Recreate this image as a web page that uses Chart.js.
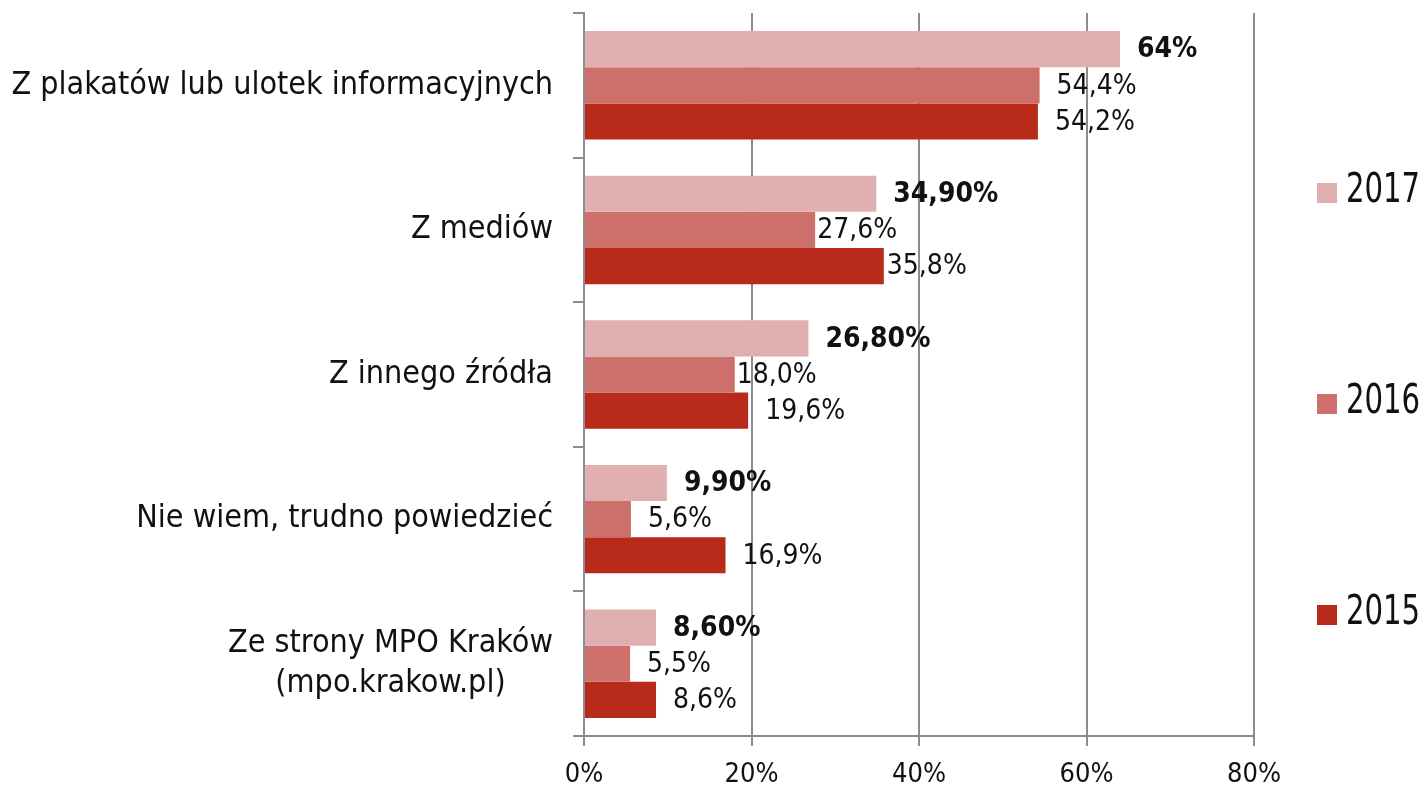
<!DOCTYPE html>
<html>
<head>
<meta charset="utf-8">
<script src="https://cdn.jsdelivr.net/npm/chart.js@4/dist/chart.umd.min.js"></script>
<style>
  html, body { margin: 0; padding: 0; background: #ffffff; }
  canvas { display: block; }
</style>
</head>
<body>
<canvas id="chart" width="1427" height="786"></canvas>
<script>
// Survey answers: where respondents learned about the campaign
const categories = [
  ["Z plakatów lub ulotek informacyjnych"],
  ["Z mediów"],
  ["Z innego źródła"],
  ["Nie wiem, trudno powiedzieć"],
  ["Ze strony MPO Kraków", "(mpo.krakow.pl)"]
];
const years = ["2017", "2016", "2015"];
const values2017 = [64, 34.9, 26.8, 9.9, 8.6];
const values2016 = [54.4, 27.6, 18.0, 5.6, 5.5];
const values2015 = [54.2, 35.8, 19.6, 16.9, 8.6];
const xTickValues = [0, 20, 40, 60, 80];

const seriesColors = ["#E0B0B0", "#CD706B", "#B82B1A"];
const GRID = "#8c8c8c";
const TEXT = "#111111";
const LABEL_FONT = "'DejaVu Sans Condensed', 'DejaVu Sans', sans-serif";

// Value label text per series
const fmt2017 = v => (Number.isInteger(v) ? String(v) : v.toFixed(2).replace(".", ",")) + "%";
const fmtOther = v => v.toFixed(1).replace(".", ",") + "%";

// Gap between bar end and its value label (a few labels sit tight to the bar)
const labelGap = { default: 17, "1:1": 2, "2:1": 3, "1:2": 2 };

const valueLabels = {
  id: "valueLabels",
  afterDatasetsDraw(chart) {
    const ctx = chart.ctx;
    ctx.save();
    ctx.fillStyle = TEXT;
    ctx.textAlign = "left";
    ctx.textBaseline = "middle";
    chart.data.datasets.forEach((ds, di) => {
      const meta = chart.getDatasetMeta(di);
      ctx.font = (di === 0 ? "bold " : "") + "28px " + LABEL_FONT;
      meta.data.forEach((bar, i) => {
        const v = ds.data[i];
        const text = di === 0 ? fmt2017(v) : fmtOther(v);
        const gap = labelGap[di + ":" + i] ?? labelGap.default;
        ctx.fillText(text, bar.x + gap, bar.y + 1);
      });
    });
    ctx.restore();
  }
};

// Category names drawn left of the axis, multi-line names centred line by line
const categoryLabels = {
  id: "categoryLabels",
  afterDraw(chart) {
    const ctx = chart.ctx;
    const y = chart.scales.y;
    const right = chart.chartArea.left - 31;
    ctx.save();
    ctx.fillStyle = TEXT;
    ctx.font = "32px " + LABEL_FONT;
    ctx.textBaseline = "middle";
    ctx.textAlign = "center";
    categories.forEach((lines, i) => {
      const cy = y.getPixelForValue(i);
      const lh = 40;
      const blockW = Math.max(...lines.map(l => ctx.measureText(l).width));
      const cx = right - blockW / 2;
      lines.forEach((l, k) => {
        ctx.fillText(l, cx, cy + (k - (lines.length - 1) / 2) * lh);
      });
    });
    ctx.restore();
  }
};

// Legend spread down the right margin, set in a narrow face
const sideLegend = {
  id: "sideLegend",
  afterDraw(chart) {
    const ctx = chart.ctx;
    const x = chart.chartArea.right + 63;
    const mid = chart.height / 2 + 11;
    const step = 211;
    const squeeze = 0.79;
    ctx.save();
    ctx.font = "41px " + LABEL_FONT;
    ctx.textBaseline = "middle";
    ctx.textAlign = "left";
    chart.data.datasets.forEach((ds, di) => {
      const cy = mid + (di - 1) * step;
      ctx.fillStyle = ds.backgroundColor;
      ctx.fillRect(x, cy - 10, 20, 20);
      ctx.fillStyle = TEXT;
      ctx.save();
      ctx.translate(x + 29, cy - 2);
      ctx.scale(squeeze, 1);
      ctx.fillText(ds.label, 0, 0);
      ctx.restore();
    });
    ctx.restore();
  }
};

const chart = new Chart(document.getElementById("chart"), {
  type: "bar",
  data: {
    labels: categories.map(c => c.join(" ")),
    datasets: [
      { label: years[0], data: values2017, backgroundColor: seriesColors[0] },
      { label: years[1], data: values2016, backgroundColor: seriesColors[1] },
      { label: years[2], data: values2015, backgroundColor: seriesColors[2] }
    ]
  },
  options: {
    indexAxis: "y",
    responsive: false,
    animation: false,
    devicePixelRatio: 1,
    layout: { padding: { top: 13, right: 173, bottom: 0, left: 0 } },
    datasets: {
      bar: { categoryPercentage: 0.75, barPercentage: 1.0, borderWidth: 0 }
    },
    plugins: {
      legend: { display: false },
      tooltip: { enabled: false }
    },
    scales: {
      x: {
        min: 0,
        max: 80,
        afterBuildTicks: s => { s.ticks = xTickValues.map(v => ({ value: v })); },
        afterFit: s => { s.height = 50; },
        grid: { color: GRID, lineWidth: 2, tickLength: 10, drawTicks: true },
        border: { color: GRID, width: 2 },
        ticks: {
          color: TEXT,
          padding: 13,
          font: { family: LABEL_FONT, size: 27 },
          callback: v => v + "%"
        }
      },
      y: {
        offset: true,
        afterFit: s => { s.width = 584; },
        grid: { drawOnChartArea: false, offset: true, color: GRID, lineWidth: 2, tickLength: 11 },
        border: { color: GRID, width: 2 },
        ticks: { display: false }
      }
    }
  },
  plugins: [valueLabels, categoryLabels, sideLegend]
});
</script>
</body>
</html>
